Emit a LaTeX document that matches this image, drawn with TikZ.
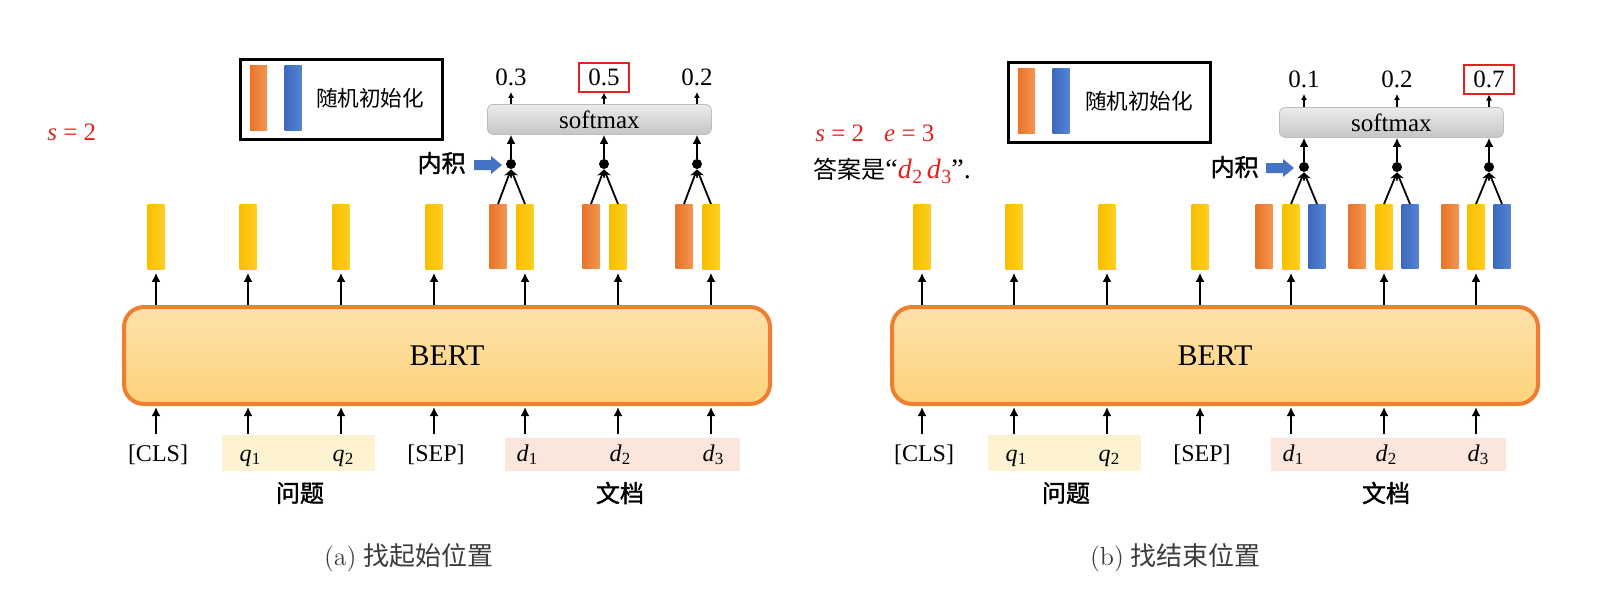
\documentclass[tikz,border=0pt]{standalone}
\usepackage{fontspec}
\setmainfont{Liberation Serif}
\newfontfamily\cjk{Noto Sans CJK SC}
\newfontfamily\cjkb[FakeBold=1.5]{Noto Sans CJK SC}
\newfontfamily\lmr{Latin Modern Roman}
\usetikzlibrary{arrows.meta}
\definecolor{yelA}{HTML}{F8BF00}
\definecolor{yelB}{HTML}{FFCE22}
\definecolor{orgA}{HTML}{E8742A}
\definecolor{orgB}{HTML}{F39550}
\definecolor{bluA}{HTML}{3C69BE}
\definecolor{bluB}{HTML}{5684D2}
\definecolor{bertTop}{HTML}{FEE2AC}
\definecolor{bertBot}{HTML}{FDD27A}
\definecolor{bertLine}{HTML}{EE7F31}
\definecolor{smTop}{HTML}{EBEBEB}
\definecolor{smBot}{HTML}{C6C6C6}
\definecolor{smLine}{HTML}{BDBDBD}
\definecolor{qBg}{HTML}{FDF3D1}
\definecolor{dBg}{HTML}{FBE6DC}
\definecolor{hlRed}{HTML}{E2231F}
\definecolor{ptrBlue}{HTML}{4472C4}
\definecolor{capGray}{HTML}{3C3C3C}
\newcommand{\tok}[2]{\textit{#1}\kern0.2pt{\fontsize{8.5}{8.5}\selectfont\raisebox{-0.45ex}{#2}}}
\newcommand{\tokb}[2]{\textit{#1}\kern0.2pt{\fontsize{10}{10}\selectfont\raisebox{-0.5ex}{#2}}}
\tikzset{
  vbar/.style={inner sep=0pt, minimum width=8.5pt, minimum height=32.5pt, anchor=north},
  ybar/.style={vbar, left color=yelA, right color=yelB},
  obar/.style={vbar, left color=orgA, right color=orgB, minimum height=32pt},
  bbar/.style={vbar, left color=bluA, right color=bluB, minimum height=32pt},
  bertbox/.style={draw=bertLine, line width=2pt, rounded corners=10pt, top color=bertTop, bottom color=bertBot, minimum width=323pt, minimum height=48.5pt, anchor=north west, font=\fontsize{15}{18}\selectfont},
  smx/.style={draw=smLine, line width=0.4pt, rounded corners=3pt, top color=smTop, bottom color=smBot, minimum width=112pt, minimum height=15pt, anchor=north west, inner sep=0pt, font=\fontsize{12.5}{14}\selectfont},
  val/.style={inner sep=0pt, minimum width=25pt, minimum height=14.5pt, font=\fontsize{12.5}{14}\selectfont},
  hl/.style={draw=hlRed, line width=1pt},
  tokl/.style={inner xsep=0pt, inner ysep=5pt, text height=8.5pt, text depth=3pt, anchor=base, font=\fontsize{12}{14}\selectfont},
  dotn/.style={circle, fill=black, inner sep=0pt, minimum size=5pt},
  arr/.style={line width=1.2pt, -{Latex[length=4.5pt,width=4.5pt]}},
  sarr/.style={line width=0.7pt, -{Latex[length=3pt,width=3pt]}},
  carr/.style={line width=0.9pt, -{Stealth[length=4pt,width=4pt]}},
  legbox/.style={draw=black, line width=1.25pt, minimum width=101pt, minimum height=40pt, anchor=north west, inner sep=0pt},
  grp/.style={font=\cjkb\fontsize{12}{14}\selectfont},
  lbl/.style={inner sep=0pt, font=\cjkb\fontsize{12}{14}\selectfont},
}
\begin{document}
\begin{tikzpicture}[x=0.5pt,y=-0.5pt]
\useasboundingbox (0,0) rectangle (1600,601);
%================ LEFT PANEL =================
\node[text=hlRed, anchor=west, inner sep=0pt, font=\fontsize{12.5}{14}\selectfont] (sA) at (47,132) {\textit{s} = 2};
% legend
\node[legbox] (legA) at (239,58) {};
\node[obar, minimum height=32.5pt] (legoA) at (258.5,65) {};
\node[bbar, minimum height=32.5pt] (legbA) at (293,65) {};
\node[font=\cjk\fontsize{10.8}{13}\selectfont] (legtA) at (370,98) {随机初始化};
% bars
\node[ybar] (yA1) at (156,204) {};
\node[ybar] (yA2) at (248,204) {};
\node[ybar] (yA3) at (341,204) {};
\node[ybar] (yA4) at (434,204) {};
\node[ybar] (yA5) at (525,204) {};
\node[ybar] (yA6) at (618,204) {};
\node[ybar] (yA7) at (711,204) {};
\node[obar] (oA5) at (498,204) {};
\node[obar] (oA6) at (591,204) {};
\node[obar] (oA7) at (684,204) {};
% bert
\node[bertbox] (bertA) at (122,305) {BERT};
% input backgrounds
\fill[qBg] (222,435) rectangle (375,471);
\fill[dBg] (505,438) rectangle (740,471);
\node[tokl] (tA1) at (158,461) {[CLS]};
\node[tokl] (tA2) at (250,461) {\tok{q}{1}};
\node[tokl] (tA3) at (343,461) {\tok{q}{2}};
\node[tokl] (tA4) at (436,461) {[SEP]};
\node[tokl] (tA5) at (527,461) {\tok{d}{1}};
\node[tokl] (tA6) at (620,461) {\tok{d}{2}};
\node[tokl] (tA7) at (713,461) {\tok{d}{3}};
\node[grp] (qA) at (300,493) {问题};
\node[grp] (dA) at (620,493) {文档};
\foreach \i in {1,...,7} {
  \draw[arr, shorten >=0.5pt] (yA\i.south |- tA\i.north) -- (yA\i.south |- bertA.south);
  \draw[arr, shorten >=1.5pt] (yA\i.south |- bertA.north) -- (yA\i.south);
}
% softmax
\node[smx] (smA) at (487,104) {softmax};
\node[dotn] (dotA1) at (511,164) {};
\node[dotn] (dotA2) at (604,164) {};
\node[dotn] (dotA3) at (697,164) {};
\node[val] (vA1) at (511,77) {0.3};
\node[val, hl] (vA2) at (604,77) {0.5};
\node[val] (vA3) at (697,77) {0.2};
\foreach \i in {1,2,3} {
  \draw[sarr] (vA\i.south |- smA.north) -- (vA\i.south);
  \draw[arr, line width=0.9pt] (dotA\i.north) -- (dotA\i.north |- smA.south);
}
\foreach \i in {5,6,7} {
  \pgfmathtruncatemacro{\j}{\i-4}
  \draw[carr] (oA\i.north) -- (dotA\j.south);
  \draw[carr] (yA\i.north) -- (dotA\j.south);
}
\node[lbl, anchor=east] (ipA) at (466,163) {内积};
\fill[ptrBlue] (474,160) -- (491,160) -- (491,156) -- (502,165) -- (491,174) -- (491,170) -- (474,170) -- cycle;
\node[anchor=west, text=capGray, font=\fontsize{13}{15}\selectfont] (capA) at (317,558) {{\lmr (a)} {\cjk 找起始位置}};
%================ RIGHT PANEL =================
\node[text=hlRed, anchor=west, inner sep=0pt, font=\fontsize{12.5}{14}\selectfont] (seB) at (815,133) {\textit{s} = 2\hspace{10pt}\textit{e} = 3};
\node[anchor=west, inner sep=0pt, font=\fontsize{14}{16}\selectfont] (ansB) at (813,171) {{\cjk\fontsize{12}{14}\selectfont 答案是}“\textcolor{hlRed}{\tokb{d}{2}\,\tokb{d}{3}}”.};
\node[legbox] (legB) at (1007,61) {};
\node[obar, minimum height=32.5pt] (legoB) at (1026.5,68) {};
\node[bbar, minimum height=32.5pt] (legbB) at (1061,68) {};
\node[font=\cjk\fontsize{10.8}{13}\selectfont] (legtB) at (1139,101) {随机初始化};
\node[ybar] (yB1) at (922,204) {};
\node[ybar] (yB2) at (1014,204) {};
\node[ybar] (yB3) at (1107,204) {};
\node[ybar] (yB4) at (1200,204) {};
\node[ybar] (yB5) at (1291,204) {};
\node[ybar] (yB6) at (1384,204) {};
\node[ybar] (yB7) at (1476,204) {};
\node[obar] (oB5) at (1264,204) {};
\node[obar] (oB6) at (1357,204) {};
\node[obar] (oB7) at (1450,204) {};
\node[bbar] (bB5) at (1317,204) {};
\node[bbar] (bB6) at (1410,204) {};
\node[bbar] (bB7) at (1502,204) {};
\node[bertbox] (bertB) at (890,305) {BERT};
\fill[qBg] (988,435) rectangle (1141,471);
\fill[dBg] (1271,438) rectangle (1506,471);
\node[tokl] (tB1) at (924,461) {[CLS]};
\node[tokl] (tB2) at (1016,461) {\tok{q}{1}};
\node[tokl] (tB3) at (1109,461) {\tok{q}{2}};
\node[tokl] (tB4) at (1202,461) {[SEP]};
\node[tokl] (tB5) at (1293,461) {\tok{d}{1}};
\node[tokl] (tB6) at (1386,461) {\tok{d}{2}};
\node[tokl] (tB7) at (1478,461) {\tok{d}{3}};
\node[grp] (qB) at (1066,493) {问题};
\node[grp] (dB) at (1386,493) {文档};
\foreach \i in {1,...,7} {
  \draw[arr, shorten >=0.5pt] (yB\i.south |- tB\i.north) -- (yB\i.south |- bertB.south);
  \draw[arr, shorten >=1.5pt] (yB\i.south |- bertB.north) -- (yB\i.south);
}
\node[smx] (smB) at (1279,107) {softmax};
\node[dotn] (dotB1) at (1304,167) {};
\node[dotn] (dotB2) at (1397,167) {};
\node[dotn] (dotB3) at (1489,167) {};
\node[val] (vB1) at (1304,79) {0.1};
\node[val] (vB2) at (1397,79) {0.2};
\node[val, hl] (vB3) at (1489,79) {0.7};
\foreach \i in {1,2,3} {
  \draw[sarr] (vB\i.south |- smB.north) -- (vB\i.south);
  \draw[arr, line width=0.9pt] (dotB\i.north) -- (dotB\i.north |- smB.south);
}
\foreach \i in {5,6,7} {
  \pgfmathtruncatemacro{\j}{\i-4}
  \draw[carr] (yB\i.north) -- (dotB\j.south);
  \draw[carr] (bB\i.north) -- (dotB\j.south);
}
\node[lbl, anchor=east] (ipB) at (1259,167) {内积};
\fill[ptrBlue] (1266,163) -- (1283,163) -- (1283,159) -- (1294,168) -- (1283,177) -- (1283,173) -- (1266,173) -- cycle;
\node[anchor=west, text=capGray, font=\fontsize{13}{15}\selectfont] (capB) at (1083,558) {{\lmr (b)} {\cjk 找结束位置}};
\end{tikzpicture}
\end{document}
